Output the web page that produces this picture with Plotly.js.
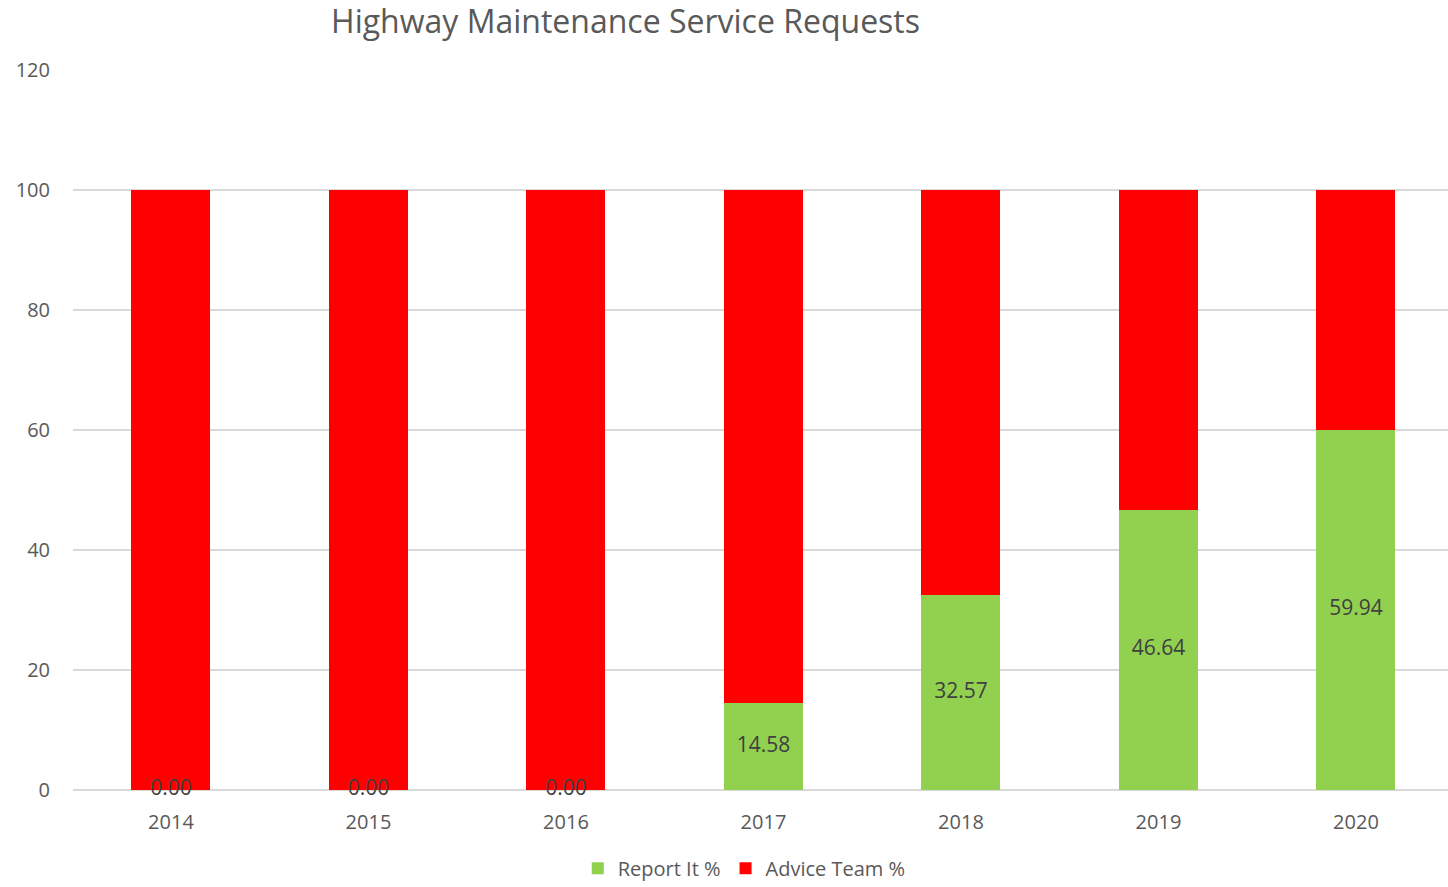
<!DOCTYPE html>
<html>
<head>
<meta charset="utf-8">
<script src="https://cdn.plot.ly/plotly-3.0.1.min.js"></script>
<style>html,body{margin:0;padding:0;overflow:hidden;background:#fff}#chart{width:1448px;height:887px}</style>
</head>
<body>
<div id="chart"></div>
<script>
const years = ["2014","2015","2016","2017","2018","2019","2020"];
const reportIt = [0.00, 0.00, 0.00, 14.58, 32.57, 46.64, 59.94];
const adviceTeam = [100.00, 100.00, 100.00, 85.42, 67.43, 53.36, 40.06];
const yTicks = [0, 20, 40, 60, 80, 100, 120];

const font = "Open Sans, Noto Sans, sans-serif";
const traces = [
  {type:"bar", name:"Report It %", x:years, y:reportIt, width:0.4,
   marker:{color:"#92d050"}, hoverinfo:"y"},
  {type:"bar", name:"Advice Team %", x:years, y:adviceTeam, width:0.4,
   marker:{color:"#ff0000"}, hoverinfo:"y"},
  {type:"scatter", mode:"text", x:years, y:reportIt.map(v=>v/2),
   text:reportIt.map(v=>v.toFixed(2)), textposition:"middle center", cliponaxis:false,
   textfont:{family:font, size:21, color:"#404040"}, showlegend:false, hoverinfo:"skip"}
];
const layout = {
  width:1448, height:887,
  barmode:"stack",
  paper_bgcolor:"#fff", plot_bgcolor:"#fff",
  margin:{l:73, r:0, t:70, b:97},
  title:{text:"Highway Maintenance Service Requests", x:0.432, xanchor:"center", y:0.975, yanchor:"middle",
         font:{family:font, size:32, color:"#595959"}},
  xaxis:{type:"category", range:[-0.496, 6.466], showgrid:false, zeroline:false, showline:false,
         tickfont:{family:font, size:20, color:"#595959"}, ticks:"", ticklabelstandoff:18},
  yaxis:{range:[0,120], tickvals:yTicks, ticktext:yTicks.map(String), gridcolor:"#d9d9d9", gridwidth:1.5,
         zeroline:true, zerolinecolor:"#d9d9d9", zerolinewidth:1.5, showline:false,
         tickfont:{family:font, size:20, color:"#595959"}, ticks:"", ticklabelstandoff:22},
  legend:{orientation:"h", xref:"container", x:0.514, xanchor:"center", yref:"container", y:0.021, yanchor:"middle",
          font:{family:font, size:20, color:"#595959"}, traceorder:"normal", itemwidth:20},
  showlegend:true
};
Plotly.newPlot("chart", traces, layout, {displayModeBar:false, staticPlot:true});
</script>
</body>
</html>
